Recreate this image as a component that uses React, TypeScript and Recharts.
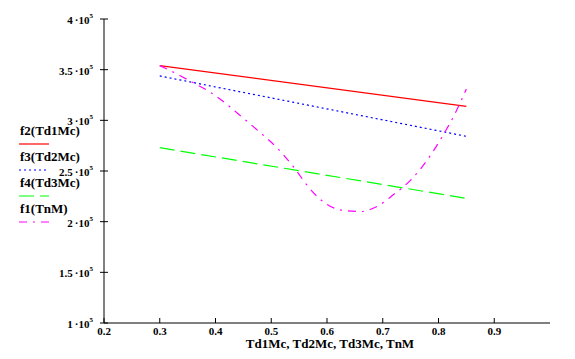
import { LineChart, Line, XAxis, YAxis } from 'recharts'

// series
const f2Data = [
  { x: 0.3, y: 354000 },
  { x: 0.85, y: 313800 },
]
const f3Data = [
  { x: 0.3, y: 343800 },
  { x: 0.85, y: 284200 },
]
const f4Data = [
  { x: 0.3, y: 273000 },
  { x: 0.85, y: 223000 },
]
const f1Data = [
  { x: 0.3, y: 354000 },
  { x: 0.33, y: 346000 },
  { x: 0.36, y: 337000 },
  { x: 0.39, y: 328000 },
  { x: 0.42, y: 316000 },
  { x: 0.45, y: 302000 },
  { x: 0.48, y: 288000 },
  { x: 0.51, y: 273000 },
  { x: 0.54, y: 254000 },
  { x: 0.57, y: 232000 },
  { x: 0.6, y: 217000 },
  { x: 0.63, y: 211000 },
  { x: 0.66, y: 210000 },
  { x: 0.69, y: 215000 },
  { x: 0.72, y: 227000 },
  { x: 0.75, y: 241000 },
  { x: 0.78, y: 261000 },
  { x: 0.81, y: 287000 },
  { x: 0.83, y: 307000 },
  { x: 0.85, y: 331000 },
]

const xTicks = [0.2, 0.3, 0.4, 0.5, 0.6, 0.7, 0.8, 0.9]
const yTicks = [100000, 150000, 200000, 250000, 300000, 350000, 400000]

const legendItems = [
  { name: 'f2(Td1Mc)', color: '#ff0000', dash: undefined },
  { name: 'f3(Td2Mc)', color: '#0000ff', dash: '2 3' },
  { name: 'f4(Td3Mc)', color: '#00ff00', dash: '15 6' },
  { name: 'f1(TnM)', color: '#ff00ff', dash: '8 6 2 6' },
]

const font = '"Liberation Serif", "Times New Roman", serif'

const YTick = ({ x, y, payload }: any) => {
  const mant = payload.value / 100000
  return (
    <g>
      <line x1={x - 4} x2={x + 4} y1={y} y2={y} stroke="#000" />
      <text x={x - 11} y={y + 5} textAnchor="end" fontFamily={font} fontWeight="bold" fontSize={11} fill="#000">
        {mant}{'\u2009'}·10
        <tspan dy={-6} fontSize={7}>5</tspan>
      </text>
    </g>
  )
}

const XTick = ({ x, y, payload }: any) => (
  <g>
    <line x1={x} x2={x} y1={y - 5} y2={y} stroke="#000" />
    <text x={x} y={y + 12} textAnchor="middle" fontFamily={font} fontWeight="bold" fontSize={11} fill="#000">
      {payload.value}
    </text>
  </g>
)

const XTitle = ({ viewBox }: any) => (
  <text
    x={viewBox.x + viewBox.width / 2 + 3}
    y={viewBox.y + 25}
    textAnchor="middle"
    fontFamily={font}
    fontWeight="bold"
    fontSize={13}
    fill="#000"
  >
    Td1Mc, Td2Mc, Td3Mc, TnM
  </text>
)

export default function App() {
  return (
    <div style={{ position: 'absolute', left: 0, top: 0, width: 575, height: 359, background: '#fff' }}>
      <LineChart width={575} height={359} margin={{ top: 19, right: 25, left: 0, bottom: 0 }}>
        <XAxis
          type="number"
          dataKey="x"
          domain={[0.2, 1.0]}
          ticks={xTicks}
          allowDataOverflow
          height={36}
          tickSize={0}
          tickMargin={0}
          tickLine={false}
          tick={<XTick />}
          axisLine={{ stroke: '#000' }}
          label={<XTitle />}
        />
        <YAxis
          type="number"
          dataKey="y"
          domain={[100000, 400000]}
          ticks={yTicks}
          width={104}
          tickSize={0}
          tickMargin={0}
          tickLine={false}
          tick={<YTick />}
          axisLine={{ stroke: '#000' }}
        />
        <Line data={f2Data} dataKey="y" type="linear" stroke="#ff0000" strokeWidth={1.2} dot={false} isAnimationActive={false} />
        <Line data={f3Data} dataKey="y" type="linear" stroke="#0000ff" strokeWidth={1.2} strokeDasharray="2 3" dot={false} isAnimationActive={false} />
        <Line data={f4Data} dataKey="y" type="linear" stroke="#00ff00" strokeWidth={1.2} strokeDasharray="15 6" dot={false} isAnimationActive={false} />
        <Line data={f1Data} dataKey="y" type="monotone" stroke="#ff00ff" strokeWidth={1.2} strokeDasharray="8 6 2 6" dot={false} isAnimationActive={false} />
      </LineChart>
      <svg width={100} height={110} style={{ position: 'absolute', left: 0, top: 120 }}>
        {legendItems.map((item, i) => (
          <g key={item.name}>
            <text x={20} y={15 + i * 26} fontFamily={font} fontWeight="bold" fontSize={13} fill="#000">
              {item.name}
            </text>
            <line x1={19} x2={49} y1={24 + i * 26} y2={24 + i * 26} stroke={item.color} strokeWidth={1.2} strokeDasharray={item.dash} />
          </g>
        ))}
      </svg>
    </div>
  )
}
